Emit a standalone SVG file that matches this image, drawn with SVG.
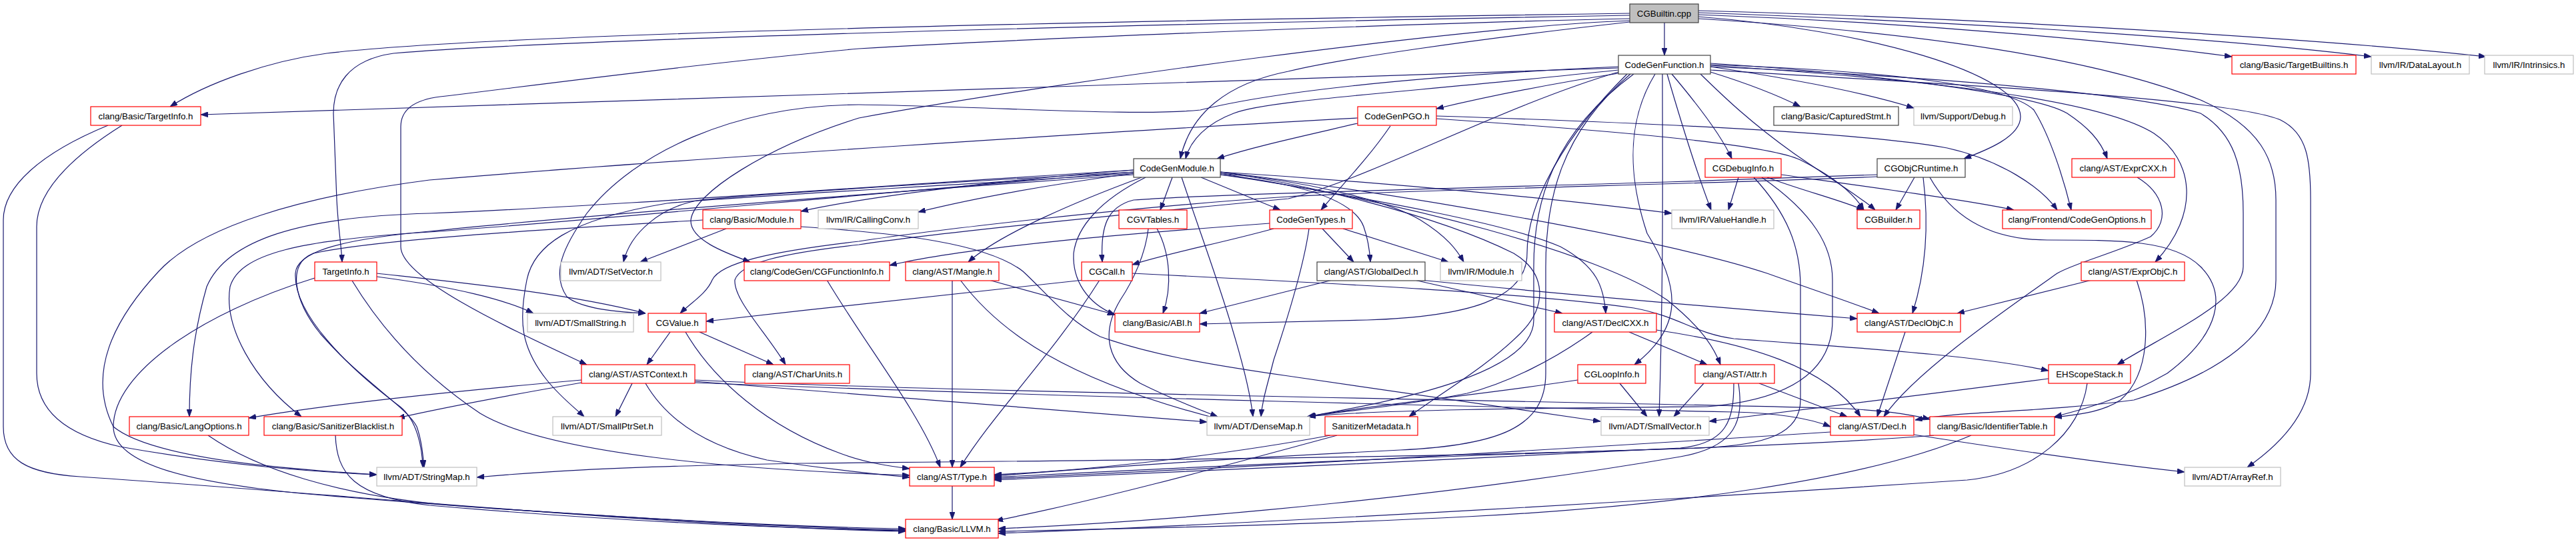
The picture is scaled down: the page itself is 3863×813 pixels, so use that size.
<svg xmlns="http://www.w3.org/2000/svg" width="3863" height="813" viewBox="0 0 3863 813">
<defs>
<style>
.node rect{fill:#ffffff;stroke-width:1.2}
.root rect{fill:#bfbfbf;stroke:#404040}
.k rect{stroke:#404040}
.r rect{stroke:#ff0000}
.g rect{stroke:#bfbfbf}
text{font-family:"Liberation Sans",Arial,Helvetica,sans-serif;font-size:13.3px;text-anchor:middle;fill:#000000}
.edges path{fill:none;stroke:#191970;stroke-width:1.2;marker-end:url(#ah)}
</style>
<marker id="ah" markerUnits="userSpaceOnUse" markerWidth="11" markerHeight="8" refX="11" refY="4" orient="auto" viewBox="0 0 11 8">
<path d="M0,0 L11,4 L0,8 z" fill="#191970" stroke="#191970" stroke-width="0.8"/>
</marker>
</defs>
<rect x="0" y="0" width="3863" height="813" fill="#ffffff"/>
<g id="edges" class="edges">
<path d="M2496,34 L2496,83"/>
<path d="M2444,20 C1400,35 700,55 490,80 C400,92 310,125 255,160"/>
<path d="M2444,23 C1500,40 800,62 590,80 C520,90 500,130 500,170 L505,300 C507,340 512,370 513,393"/>
<path d="M2444,28 C2100,35 1500,60 1288,73 C1000,100 750,135 660,145 C620,150 601,165 601,190 L601,370 C601,420 780,500 880,547"/>
<path d="M2444,31 C2200,40 1600,120 1288,177 C1150,220 1040,290 1036,330 C1034,360 1090,380 1125,393"/>
<path d="M2444,33 C2200,60 2000,90 1932,107 C1840,125 1785,170 1770,238"/>
<path d="M2547,25 C2800,45 3030,110 3030,175 C3030,205 2980,225 2945,238"/>
<path d="M2547,22 C2900,35 3200,65 3347,85"/>
<path d="M2547,19 C3000,35 3350,60 3556,85"/>
<path d="M2547,16 C3000,28 3500,60 3728,85"/>
<path d="M2547,28 C2900,50 3150,90 3300,150 C3390,190 3413,240 3413,300 L3413,420 C3413,500 3330,560 3200,600 C3050,620 2950,615 2872,630"/>
<path d="M2550,111 C2580,140 2620,180 2690,230 C2740,265 2790,295 2812,315"/>
<path d="M2507,111 C2540,150 2580,200 2597,238"/>
<path d="M2482,111 C2440,180 2440,260 2470,350 C2520,430 2525,490 2451,547"/>
<path d="M2427,100 C2100,115 1900,140 1800,165 C1700,175 1500,160 1288,157 C1100,158 950,230 880,320 C845,370 826,410 850,445 C870,462 920,468 968,470"/>
<path d="M2427,105 C2100,140 1900,150 1850,170 C1810,185 1785,210 1778,238"/>
<path d="M2427,110 C2330,125 2230,145 2154,163"/>
<path d="M2565,100 C2900,115 3200,140 3300,170 C3350,200 3364,250 3364,320 L3364,400 C3364,450 3250,500 3175,547"/>
<path d="M2427,108 C2250,160 2050,270 1932,298 C1700,320 1400,350 1288,367 C1170,380 1110,395 1102,420 C1100,450 1150,500 1178,547"/>
<path d="M2565,95 C2800,110 3050,140 3100,170 C3130,190 3150,210 3160,238"/>
<path d="M2565,98 C2900,120 3150,150 3230,200 C3290,240 3300,320 3232,393"/>
<path d="M2445,111 C2340,200 2318,300 2318,400 L2318,560 C2318,640 2250,668 2100,675 C1800,690 1600,705 1491,714"/>
<path d="M2440,111 C2350,200 2290,300 2290,380 C2290,450 2200,475 2050,480 C1950,483 1850,485 1799,486"/>
<path d="M2565,108 C2620,125 2670,145 2700,160"/>
<path d="M2427,102 C1800,120 800,160 301,172"/>
<path d="M2565,97 C2800,105 3010,125 3050,165 C3075,205 3095,270 3106,315"/>
<path d="M2565,105 C3000,130 3350,150 3420,180 C3460,200 3465,240 3465,300 L3465,560 C3465,630 3400,680 3370,701"/>
<path d="M2450,111 C2330,200 2300,300 2300,400 L2300,480 C2300,560 2100,600 1960,625"/>
<path d="M2493,111 C2493,250 2495,400 2488,625"/>
<path d="M2500,111 C2520,180 2545,260 2566,315"/>
<path d="M2565,100 C2700,120 2800,140 2870,162"/>
<path d="M2154,178 C2400,195 2650,215 2700,240 C2750,265 2780,290 2795,315"/>
<path d="M2154,174 C2500,185 2800,200 2920,222 C3000,240 3060,280 3085,315"/>
<path d="M2085,189 C2050,240 2010,280 1981,315"/>
<path d="M2036,185 C1950,205 1880,220 1825,238"/>
<path d="M2036,177 C1700,195 1000,240 644,270 C450,295 300,340 238,407 C170,480 130,560 170,640 C230,690 450,705 565,712"/>
<path d="M2650,266 C2700,285 2760,300 2795,315"/>
<path d="M2671,262 C2800,280 2950,300 3020,315"/>
<path d="M2607,266 L2592,315"/>
<path d="M2630,266 C2680,320 2700,370 2700,430 L2700,600 C2700,650 2650,668 2550,672 C2100,685 1700,705 1491,716"/>
<path d="M2642,266 C2720,320 2748,370 2748,420 L2748,480 C2748,560 2680,600 2560,610 C2300,612 2050,615 1962,625"/>
<path d="M2871,266 L2843,315"/>
<path d="M2884,266 C2892,330 2890,400 2868,470"/>
<path d="M2894,266 C2930,330 2990,360 3070,360 C3180,360 3260,360 3300,400 C3340,440 3330,500 3250,560 C3180,600 3120,615 3081,625"/>
<path d="M2815,262 C2700,266 2600,270 2500,273 C2200,282 1800,292 1700,300 C1660,310 1650,340 1653,393"/>
<path d="M2815,265 C2600,275 2100,285 1932,295 C1700,310 1400,345 1288,362 C1150,378 1080,395 1068,420 C1060,440 1035,455 1020,470"/>
<path d="M3205,266 C3245,290 3255,330 3225,355 C3170,380 3110,395 3085,410 C3000,470 2870,560 2825,625"/>
<path d="M3137,420 L2935,470"/>
<path d="M3204,420 C3225,480 3225,560 3180,600 C3150,620 3110,622 3081,626"/>
<path d="M1089,343 L960,393"/>
<path d="M1201,340 C1350,350 1480,365 1534,407 C1570,440 1600,480 1650,505 C1720,530 1800,545 1932,564 C2150,595 2300,618 2400,632"/>
<path d="M1054,330 C800,345 560,360 470,380 C430,395 440,450 480,500 C540,570 610,610 625,640 C632,660 634,680 636,701"/>
<path d="M1722,343 C1718,380 1700,420 1680,450 C1650,500 1660,545 1710,575 C1760,600 1800,615 1826,625"/>
<path d="M1735,343 C1755,380 1758,430 1744,470"/>
<path d="M1910,343 C1830,365 1750,380 1698,397"/>
<path d="M1904,335 C1700,350 1450,370 1334,398"/>
<path d="M1983,343 L2030,393"/>
<path d="M2014,343 L2172,393"/>
<path d="M1963,343 C1955,400 1930,480 1910,540 C1900,580 1893,600 1891,625"/>
<path d="M1758,266 L1740,315"/>
<path d="M1801,266 L1920,315"/>
<path d="M1830,258 C1950,275 2150,320 2270,380 C2320,410 2320,460 2280,500 C2230,550 2160,590 2113,625"/>
<path d="M1830,262 C2100,300 2400,380 2500,450 C2550,490 2570,520 2580,547"/>
<path d="M1830,260 C2000,290 2250,330 2340,370 C2395,400 2405,430 2408,470"/>
<path d="M1830,258 C2100,290 2500,360 2650,410 C2720,435 2780,455 2818,470"/>
<path d="M1830,262 C1950,275 2030,300 2045,340 C2052,360 2054,375 2055,393"/>
<path d="M1712,266 C1620,300 1500,350 1452,393"/>
<path d="M1718,266 C1650,300 1615,340 1610,380 C1608,420 1630,455 1672,472"/>
<path d="M1700,255 C1300,280 900,310 644,320 C450,325 340,360 310,430 C290,500 284,560 284,625"/>
<path d="M1700,258 C1300,290 900,330 644,348 C450,360 360,380 345,430 C335,490 380,570 452,625"/>
<path d="M1772,266 C1800,350 1830,430 1850,500 C1865,550 1875,590 1879,625"/>
<path d="M1700,258 C1400,275 1150,290 1050,300 C990,310 945,350 935,393"/>
<path d="M1700,260 C1400,280 1100,295 1000,305 C850,330 800,370 790,420 C778,480 780,520 820,570 C840,595 860,610 876,625"/>
<path d="M1700,262 C1300,290 800,330 644,347 C500,360 445,380 443,410 C440,470 520,550 600,610 C625,630 633,670 634,701"/>
<path d="M1700,260 C1550,280 1450,300 1377,318"/>
<path d="M1700,255 C1500,270 1300,295 1201,317"/>
<path d="M1830,260 C1950,270 2080,300 2130,330 C2170,355 2185,375 2195,393"/>
<path d="M1830,258 C2100,275 2350,300 2507,320"/>
<path d="M1625,420 C1450,440 1250,460 1059,482"/>
<path d="M1649,420 C1580,530 1490,620 1440,701"/>
<path d="M1698,410 C2000,425 2300,440 2450,462 C2520,475 2540,500 2600,508 C2750,520 2950,530 3072,556"/>
<path d="M1240,420 C1300,520 1380,620 1410,701"/>
<path d="M1428,420 L1428,701"/>
<path d="M1483,420 L1672,472"/>
<path d="M1440,420 C1500,500 1600,570 1826,628"/>
<path d="M1998,420 L1799,470"/>
<path d="M2121,420 L2343,470"/>
<path d="M2130,420 C2250,432 2500,455 2785,478"/>
<path d="M565,410 C700,425 850,440 968,470"/>
<path d="M565,415 C680,430 760,450 800,470"/>
<path d="M528,421 C570,490 630,560 720,620 C820,680 1100,705 1364,713"/>
<path d="M472,417 C300,470 170,560 170,640 C170,700 300,725 450,740 C800,770 1150,790 1358,793"/>
<path d="M162,188 C60,230 5,280 5,330 L5,640 C5,690 40,710 120,715 C500,740 1000,790 1358,797"/>
<path d="M183,188 C100,240 55,290 55,340 L55,560 C55,610 90,650 180,670 C350,700 480,708 565,712"/>
<path d="M1005,498 L970,547"/>
<path d="M1049,498 L1160,547"/>
<path d="M1028,498 C1070,570 1150,640 1260,680 C1300,695 1340,700 1364,703"/>
<path d="M872,570 C700,585 500,605 373,627"/>
<path d="M872,574 C780,590 680,608 596,627"/>
<path d="M948,575 L923,625"/>
<path d="M968,575 C1000,630 1060,670 1150,690 C1250,705 1320,712 1364,716"/>
<path d="M1042,572 C1200,585 1500,610 1810,633"/>
<path d="M1042,570 C1400,588 2400,603 2740,612 C2810,614 2860,620 2894,629"/>
<path d="M1042,574 C1600,596 2300,612 2600,618 C2680,620 2720,630 2745,640"/>
<path d="M2388,498 C2330,540 2260,575 2200,590 C2100,610 2000,618 1962,625"/>
<path d="M2443,498 L2560,547"/>
<path d="M2484,495 C2620,515 2740,550 2790,625"/>
<path d="M2857,498 L2815,625"/>
<path d="M2555,575 L2510,625"/>
<path d="M2638,575 L2770,625"/>
<path d="M2600,575 C2600,630 2590,665 2520,672 C2200,690 1800,705 1491,720"/>
<path d="M2607,575 C2615,630 2605,670 2520,685 C2200,740 1800,780 1497,793"/>
<path d="M2429,575 L2470,625"/>
<path d="M2366,570 C2200,595 2050,608 1962,625"/>
<path d="M3072,568 C2900,590 2700,615 2563,632"/>
<path d="M3130,575 C3120,650 3050,710 2950,720 C2500,750 1900,785 1497,800"/>
<path d="M2745,648 C2400,670 1900,700 1491,718"/>
<path d="M2870,652 C3050,680 3200,700 3276,708"/>
<path d="M2956,653 C2800,720 2500,760 2200,775 C1900,790 1600,795 1497,797"/>
<path d="M2900,653 C2500,685 1700,690 1200,695 C900,700 780,710 715,716"/>
<path d="M1995,653 C1850,680 1650,705 1491,712"/>
<path d="M2005,653 C1850,695 1650,750 1493,781"/>
<path d="M312,653 C380,700 500,745 700,760 C1000,780 1200,792 1358,795"/>
<path d="M503,653 C505,710 530,745 644,758 C900,780 1150,792 1358,796"/>
<path d="M1428,729 L1428,779"/>
</g>
<g id="n0" class="node root"><rect x="2444" y="6" width="103" height="28"/><text x="2495.5" y="24.5">CGBuiltin.cpp</text></g>
<g id="n1" class="node k"><rect x="2427" y="83" width="138" height="28"/><text x="2496" y="101.5">CodeGenFunction.h</text></g>
<g id="n2" class="node r"><rect x="3347" y="83" width="186" height="28"/><text x="3440" y="101.5">clang/Basic/TargetBuiltins.h</text></g>
<g id="n3" class="node g"><rect x="3556" y="83" width="147" height="28"/><text x="3629.5" y="101.5">llvm/IR/DataLayout.h</text></g>
<g id="n4" class="node g"><rect x="3726" y="83" width="133" height="28"/><text x="3792.5" y="101.5">llvm/IR/Intrinsics.h</text></g>
<g id="n5" class="node r"><rect x="136" y="160" width="165" height="28"/><text x="218.5" y="178.5">clang/Basic/TargetInfo.h</text></g>
<g id="n6" class="node r"><rect x="2036" y="160" width="118" height="28"/><text x="2095" y="178.5">CodeGenPGO.h</text></g>
<g id="n7" class="node k"><rect x="2660" y="160" width="187" height="28"/><text x="2753.5" y="178.5">clang/Basic/CapturedStmt.h</text></g>
<g id="n8" class="node g"><rect x="2870" y="160" width="148" height="28"/><text x="2944" y="178.5">llvm/Support/Debug.h</text></g>
<g id="n9" class="node k"><rect x="1700" y="238" width="130" height="28"/><text x="1765" y="256.5">CodeGenModule.h</text></g>
<g id="n10" class="node r"><rect x="2557" y="238" width="114" height="28"/><text x="2614" y="256.5">CGDebugInfo.h</text></g>
<g id="n11" class="node k"><rect x="2815" y="238" width="132" height="28"/><text x="2881" y="256.5">CGObjCRuntime.h</text></g>
<g id="n12" class="node r"><rect x="3107" y="238" width="154" height="28"/><text x="3184" y="256.5">clang/AST/ExprCXX.h</text></g>
<g id="n13" class="node r"><rect x="1054" y="315" width="147" height="28"/><text x="1127.5" y="333.5">clang/Basic/Module.h</text></g>
<g id="n14" class="node g"><rect x="1227" y="315" width="150" height="28"/><text x="1302" y="333.5">llvm/IR/CallingConv.h</text></g>
<g id="n15" class="node r"><rect x="1678" y="315" width="102" height="28"/><text x="1729" y="333.5">CGVTables.h</text></g>
<g id="n16" class="node r"><rect x="1904" y="315" width="124" height="28"/><text x="1966" y="333.5">CodeGenTypes.h</text></g>
<g id="n17" class="node g"><rect x="2507" y="315" width="153" height="28"/><text x="2583.5" y="333.5">llvm/IR/ValueHandle.h</text></g>
<g id="n18" class="node r"><rect x="2785" y="315" width="94" height="28"/><text x="2832" y="333.5">CGBuilder.h</text></g>
<g id="n19" class="node r"><rect x="3003" y="315" width="223" height="28"/><text x="3114.5" y="333.5">clang/Frontend/CodeGenOptions.h</text></g>
<g id="n20" class="node r"><rect x="472" y="393" width="93" height="28"/><text x="518.5" y="411.5">TargetInfo.h</text></g>
<g id="n21" class="node g"><rect x="841" y="393" width="150" height="28"/><text x="916" y="411.5">llvm/ADT/SetVector.h</text></g>
<g id="n22" class="node r"><rect x="1116" y="393" width="218" height="28"/><text x="1225" y="411.5">clang/CodeGen/CGFunctionInfo.h</text></g>
<g id="n23" class="node r"><rect x="1358" y="393" width="140" height="28"/><text x="1428" y="411.5">clang/AST/Mangle.h</text></g>
<g id="n24" class="node r"><rect x="1622" y="393" width="76" height="28"/><text x="1660" y="411.5">CGCall.h</text></g>
<g id="n25" class="node k"><rect x="1975" y="393" width="162" height="28"/><text x="2056" y="411.5">clang/AST/GlobalDecl.h</text></g>
<g id="n26" class="node g"><rect x="2160" y="393" width="122" height="28"/><text x="2221" y="411.5">llvm/IR/Module.h</text></g>
<g id="n27" class="node r"><rect x="3121" y="393" width="155" height="28"/><text x="3198.5" y="411.5">clang/AST/ExprObjC.h</text></g>
<g id="n28" class="node g"><rect x="791" y="470" width="159" height="28"/><text x="870.5" y="488.5">llvm/ADT/SmallString.h</text></g>
<g id="n29" class="node r"><rect x="972" y="470" width="87" height="28"/><text x="1015.5" y="488.5">CGValue.h</text></g>
<g id="n30" class="node r"><rect x="1672" y="470" width="127" height="28"/><text x="1735.5" y="488.5">clang/Basic/ABI.h</text></g>
<g id="n31" class="node r"><rect x="2331" y="470" width="153" height="28"/><text x="2407.5" y="488.5">clang/AST/DeclCXX.h</text></g>
<g id="n32" class="node r"><rect x="2785" y="470" width="155" height="28"/><text x="2862.5" y="488.5">clang/AST/DeclObjC.h</text></g>
<g id="n33" class="node r"><rect x="872" y="547" width="170" height="28"/><text x="957" y="565.5">clang/AST/ASTContext.h</text></g>
<g id="n34" class="node r"><rect x="1117" y="547" width="157" height="28"/><text x="1195.5" y="565.5">clang/AST/CharUnits.h</text></g>
<g id="n35" class="node r"><rect x="2366" y="547" width="102" height="28"/><text x="2417" y="565.5">CGLoopInfo.h</text></g>
<g id="n36" class="node r"><rect x="2542" y="547" width="119" height="28"/><text x="2601.5" y="565.5">clang/AST/Attr.h</text></g>
<g id="n37" class="node r"><rect x="3072" y="547" width="123" height="28"/><text x="3133.5" y="565.5">EHScopeStack.h</text></g>
<g id="n38" class="node r"><rect x="194" y="625" width="179" height="28"/><text x="283.5" y="643.5">clang/Basic/LangOptions.h</text></g>
<g id="n39" class="node r"><rect x="396" y="625" width="207" height="28"/><text x="499.5" y="643.5">clang/Basic/SanitizerBlacklist.h</text></g>
<g id="n40" class="node g"><rect x="829" y="625" width="163" height="28"/><text x="910.5" y="643.5">llvm/ADT/SmallPtrSet.h</text></g>
<g id="n41" class="node g"><rect x="1810" y="625" width="154" height="28"/><text x="1887" y="643.5">llvm/ADT/DenseMap.h</text></g>
<g id="n42" class="node r"><rect x="1987" y="625" width="139" height="28"/><text x="2056.5" y="643.5">SanitizerMetadata.h</text></g>
<g id="n43" class="node g"><rect x="2401" y="625" width="162" height="28"/><text x="2482" y="643.5">llvm/ADT/SmallVector.h</text></g>
<g id="n44" class="node r"><rect x="2745" y="625" width="125" height="28"/><text x="2807.5" y="643.5">clang/AST/Decl.h</text></g>
<g id="n45" class="node r"><rect x="2894" y="625" width="187" height="28"/><text x="2987.5" y="643.5">clang/Basic/IdentifierTable.h</text></g>
<g id="n46" class="node g"><rect x="565" y="701" width="150" height="28"/><text x="640" y="719.5">llvm/ADT/StringMap.h</text></g>
<g id="n47" class="node r"><rect x="1364" y="701" width="127" height="28"/><text x="1427.5" y="719.5">clang/AST/Type.h</text></g>
<g id="n48" class="node g"><rect x="3276" y="701" width="144" height="28"/><text x="3348" y="719.5">llvm/ADT/ArrayRef.h</text></g>
<g id="n49" class="node r"><rect x="1358" y="779" width="139" height="28"/><text x="1427.5" y="797.5">clang/Basic/LLVM.h</text></g>
</svg>
